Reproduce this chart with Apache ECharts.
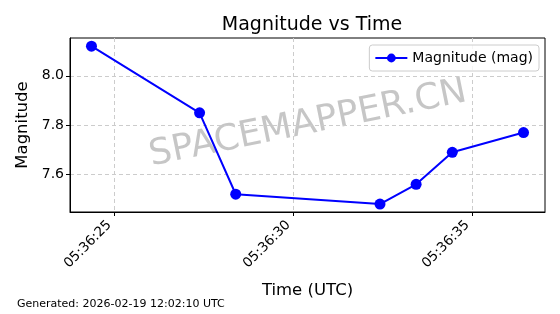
<!DOCTYPE html>
<html><head><meta charset="utf-8">
<script src="https://cdn.jsdelivr.net/npm/echarts@6/dist/echarts.min.js"></script>
<style>html,body{margin:0;padding:0;background:#fff}#c{width:560px;height:314px}</style>
</head><body><div id="c"></div>
<script>
// seconds after 05:36:00 UTC
const times = [24.36, 27.38, 28.39, 32.42, 33.43, 34.44, 36.43];
const magnitudes = [8.12, 7.85, 7.52, 7.48, 7.56, 7.69, 7.77];
const xTicks = [25, 30, 35];
const yTicks = [7.6, 7.8, 8.0];
const seriesName = 'Magnitude (mag)';
const titleText = 'Magnitude vs Time';
const footer = 'Generated: 2026-02-19 12:02:10 UTC';
const watermark = 'SPACEMAPPER.CN';

const font = 'DejaVu Sans';
const fmtT = v => '05:36:' + String(Math.round(v)).padStart(2, '0');
const chart = echarts.init(document.getElementById('c'), null, {renderer: 'canvas'});
const grid = {left: 70, right: 15, top: 38, bottom: 102};
chart.setOption({
  animation: false,
  textStyle: {fontFamily: font},
  title: {text: titleText, left: 307, textAlign: 'center', top: 11,
    textStyle: {fontFamily: font, fontSize: 19, fontWeight: 'normal', color: '#000'}},
  grid: Object.assign({show: true, borderColor: '#000', borderWidth: 1, backgroundColor: 'transparent'}, grid),
  legend: {right: 21, top: 45, itemWidth: 32, itemHeight: 11, itemGap: 6,
    padding: [6, 6, 6, 5], borderColor: '#ccc', borderWidth: 1, borderRadius: 3,
    backgroundColor: 'rgba(255,255,255,0.8)',
    textStyle: {fontFamily: font, fontSize: 14, color: '#000'},
    data: [{name: seriesName}]},
  xAxis: {type: 'value', min: 23.76, max: 37.03,
    name: 'Time (UTC)', nameLocation: 'middle', nameGap: 70,
    nameTextStyle: {fontFamily: font, fontSize: 16.5, color: '#000'},
    axisLine: {show: true, lineStyle: {color: '#000'}},
    axisTick: {show: true, length: 4, lineStyle: {color: '#000'}, customValues: xTicks},
    axisLabel: {rotate: 45, fontFamily: font, fontSize: 13.5, color: '#000', margin: 6,
      padding: [0, 7, 0, 0], customValues: xTicks, formatter: fmtT},
    splitLine: {show: true, lineStyle: {color: '#ccc', type: [4, 3]}}},
  yAxis: {type: 'value', min: 7.448, max: 8.153,
    name: 'Magnitude', nameLocation: 'middle', nameGap: 38,
    nameTextStyle: {fontFamily: font, fontSize: 16.5, color: '#000'},
    axisLine: {show: true, lineStyle: {color: '#000'}},
    axisTick: {show: true, length: 4, lineStyle: {color: '#000'}, customValues: yTicks},
    axisLabel: {fontFamily: font, fontSize: 14, color: '#000', margin: 6,
      customValues: yTicks, formatter: v => v.toFixed(1)},
    splitLine: {show: true, lineStyle: {color: '#ccc', type: [4, 3]}}},
  graphic: [
    {type: 'text', left: 17, top: 299, style: {text: footer, font: '11px "DejaVu Sans"', fill: '#000'}},
    {type: 'text', x: 308, y: 124, rotation: 11.5 * Math.PI / 180, z: -1,
      style: {text: watermark, font: '36px "DejaVu Sans"', fill: 'rgba(128,128,128,0.45)',
        textAlign: 'center', textVerticalAlign: 'middle'}}
  ],
  series: [{name: seriesName, type: 'line', data: times.map((t, i) => [t, magnitudes[i]]),
    symbol: 'circle', symbolSize: 11, itemStyle: {color: '#0000ff'},
    lineStyle: {color: '#0000ff', width: 2}}]
});
</script></body></html>
